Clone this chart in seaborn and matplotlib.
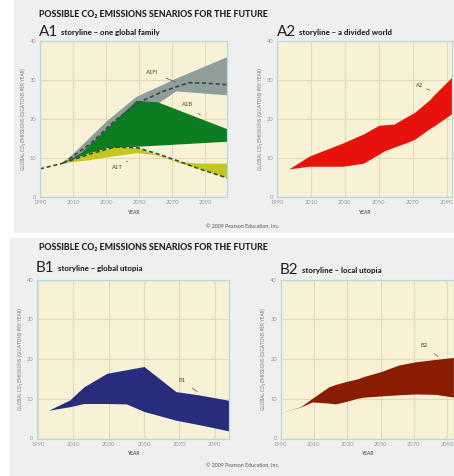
import numpy as np
import pandas as pd
import matplotlib.pyplot as plt
import seaborn as sns
from matplotlib.patches import Rectangle

# ---- data ----
A1_START_YEARS = [1990, 2004]
A1_START_VALUES = [7.2, 8.7]

A1FI_YEARS = [2004, 2030, 2048, 2061, 2072, 2103]
A1FI_UPPER = [8.8, 19.5, 25.8, 28.3, 30.5, 36.0]
A1FI_LOWER = [8.8, 13.0, 18.0, 24.0, 27.2, 26.2]
A1FI_DASH_YEARS = [2004, 2020, 2035, 2050, 2065, 2080, 2090, 2103]
A1FI_DASH = [8.7, 13.5, 19.5, 24.3, 27.2, 29.3, 29.2, 28.8]

A1B_YEARS = [2004, 2015, 2030, 2048, 2061, 2103]
A1B_UPPER = [8.8, 11.5, 17.5, 24.8, 24.4, 17.5]
A1B_LOWER = [8.8, 10.5, 12.6, 13.0, 13.3, 14.3]

A1T_YEARS = [2004, 2020, 2035, 2049, 2060, 2073, 2085, 2103]
A1T_UPPER = [8.8, 11.5, 12.8, 12.6, 11.0, 9.2, 8.7, 8.7]
A1T_LOWER = [8.8, 9.6, 10.6, 11.4, 10.8, 9.0, 7.5, 4.9]
A1T_DASH = [8.7, 11.0, 12.8, 12.6, 11.2, 9.3, 7.4, 4.9]

A2_YEARS = [1997, 2009, 2029, 2041, 2050, 2053, 2059, 2066, 2071, 2080, 2082, 2094]
A2_UPPER = [7.2, 10.5, 13.9, 16.2, 18.4, 18.5, 18.7, 20.5, 21.7, 25.0, 26.0, 31.2]
A2_LOWER = [7.2, 7.9, 7.9, 8.7, 11.0, 11.8, 12.8, 13.9, 14.8, 17.6, 18.1, 21.7]

B1_YEARS = [1996, 2008, 2016, 2029, 2040, 2050, 2068, 2082, 2098]
B1_UPPER = [7.1, 9.7, 13.0, 16.4, 17.3, 18.1, 11.8, 10.9, 9.6]
B1_LOWER = [7.1, 8.0, 8.8, 8.8, 8.7, 6.8, 4.6, 3.4, 1.9]

B2_YEARS = [1990, 2002, 2009, 2019, 2023, 2029, 2036, 2040, 2050, 2061, 2071, 2083, 2094]
B2_UPPER = [6.5, 8.0, 10.1, 13.0, 13.6, 14.3, 15.0, 15.6, 16.8, 18.5, 19.3, 19.9, 20.4]
B2_LOWER = [6.5, 7.9, 9.2, 8.9, 8.7, 9.3, 10.1, 10.4, 10.7, 11.0, 11.2, 11.1, 10.4]

X_TICKS = [1990, 2010, 2030, 2050, 2070, 2090]
Y_TICKS = [0, 10, 20, 30, 40]

MAIN_TITLE = "POSSIBLE CO₂ EMISSIONS SENARIOS FOR THE FUTURE"
Y_LABEL = "GLOBAL CO₂ EMISSIONS (GIGATONS PER YEAR)"
FOOTER = "© 2009 Pearson Education, Inc."

# ---- colours ----
AX_BG = "#f7f2d6"
GRID = "#e2dbbb"
SPINE = "#b2dcdc"
GRAY_BAND = "#8f9e9a"
GREEN = "#0b7d20"
YELLOW = "#c4c81e"
RED = "#e8120c"
NAVY = "#272c7c"
BROWN = "#8a1c04"
DASH = "#3c4848"

sns.set_style("white")
plt.rcParams["font.family"] = ["Lato", "DejaVu Sans"]

fig = plt.figure(figsize=(4.54, 4.76), dpi=100)
fig.patch.set_facecolor("white")
fig.patches.append(Rectangle((14 / 454, 1 - 232 / 476), 1, 232 / 476,
                             transform=fig.transFigure, color="#efefef", zorder=-10))
fig.patches.append(Rectangle((10 / 454, 0), 1, 1 - 238 / 476,
                             transform=fig.transFigure, color="#efefef", zorder=-10))


def setup_axes(rect, xmin, xmax):
    ax = fig.add_axes(rect)
    ax.set_facecolor(AX_BG)
    ax.set_xlim(xmin, xmax)
    ax.set_ylim(0, 40)
    ax.set_xticks(X_TICKS)
    ax.set_yticks(Y_TICKS)
    ax.grid(True, color=GRID, linewidth=0.8)
    ax.set_axisbelow(True)
    for s in ax.spines.values():
        s.set_color(SPINE)
        s.set_linewidth(0.9)
    ax.tick_params(length=0, pad=2.5, labelsize=4.2, colors="#9a9a9a")
    ax.set_xlabel("YEAR", fontsize=3.6, color="#666666", fontweight="bold", labelpad=3)
    ax.set_ylabel(Y_LABEL, fontsize=3.3, color="#777777", labelpad=3)
    return ax


def label(ax, text, xy, xytext):
    ax.annotate(text, xy=xy, xytext=xytext, fontsize=4.2, color="#444444",
                ha="center", va="center",
                arrowprops=dict(arrowstyle="-", color="#555555", lw=0.5,
                                shrinkA=3, shrinkB=0))


def panel_title(x, y, big, small):
    fig.text(x / 454, 1 - y / 476, big, fontsize=11, color="#222222",
             ha="left", va="center")
    fig.text((x + 22) / 454, 1 - (y + 1) / 476, small, fontsize=5.6,
             fontweight="black", color="#222222", ha="left", va="center")


# ---- top block ----
fig.text(39 / 454, 1 - 14 / 476, MAIN_TITLE, fontsize=6.4, fontweight="black",
         color="#222222", ha="left", va="center")
fig.text(39 / 454, 1 - 247 / 476, MAIN_TITLE, fontsize=6.4, fontweight="black",
         color="#222222", ha="left", va="center")

ax1 = setup_axes([40 / 454, 1 - 197 / 476, 187 / 454, 156 / 476], 1990, 2103)
ax1.fill_between(A1FI_YEARS, A1FI_LOWER, A1FI_UPPER, color=GRAY_BAND, lw=0)
ax1.fill_between(A1B_YEARS, A1B_LOWER, A1B_UPPER, color=GREEN, lw=0)
ax1.fill_between(A1T_YEARS, A1T_LOWER, A1T_UPPER, color=YELLOW, lw=0)
start = pd.DataFrame({"year": A1_START_YEARS, "value": A1_START_VALUES})
fi = pd.DataFrame({"year": A1FI_DASH_YEARS, "value": A1FI_DASH})
t = pd.DataFrame({"year": A1T_YEARS, "value": A1T_DASH})
for d in (start, fi, t):
    sns.lineplot(data=d, x="year", y="value", ax=ax1, color=DASH, lw=1.2,
                 linestyle=(0, (2.5, 1.6)))
ax1.set_xlabel("YEAR", fontsize=3.6, color="#666666", fontweight="bold", labelpad=3)
ax1.set_ylabel(Y_LABEL, fontsize=3.3, color="#777777", labelpad=3)
label(ax1, "A1FI", (2072, 29.5), (2058, 31.8))
label(ax1, "A1B", (2087, 21.0), (2079, 23.6))
label(ax1, "A1T", (2043, 9.2), (2037, 7.6))
panel_title(39, 32, "A1", "storyline – one global family")

ax2 = setup_axes([277 / 454, 1 - 197 / 476, 175 / 454, 156 / 476], 1990, 2093)
ax2.fill_between(A2_YEARS, A2_LOWER, A2_UPPER, color=RED, lw=0)
label(ax2, "A2", (2080, 27.4), (2074, 28.5))
panel_title(277, 32, "A2", "storyline – a divided world")

fig.text(243 / 454, 1 - 227 / 476, FOOTER, fontsize=3.8, color="#555555",
         ha="center", va="center")

# ---- bottom block ----
ax3 = setup_axes([37 / 454, 1 - 438.5 / 476, 192 / 454, 159 / 476], 1989.5, 2098)
ax3.fill_between(B1_YEARS, B1_LOWER, B1_UPPER, color=NAVY, lw=0)
label(ax3, "B1", (2080, 11.8), (2071.5, 14.5))
panel_title(36, 268, "B1", "storyline – global utopia")

ax4 = setup_axes([280.5 / 454, 1 - 438.5 / 476, 173.5 / 454, 159 / 476], 1990, 2094)
ax4.fill_between(B2_YEARS, B2_LOWER, B2_UPPER, color=BROWN, lw=0)
label(ax4, "B2", (2084.5, 20.6), (2076, 23.3))
panel_title(280, 270, "B2", "storyline – local utopia")

fig.text(243 / 454, 1 - 466 / 476, FOOTER, fontsize=3.8, color="#555555",
         ha="center", va="center")

fig.savefig("out.png", dpi=100)
